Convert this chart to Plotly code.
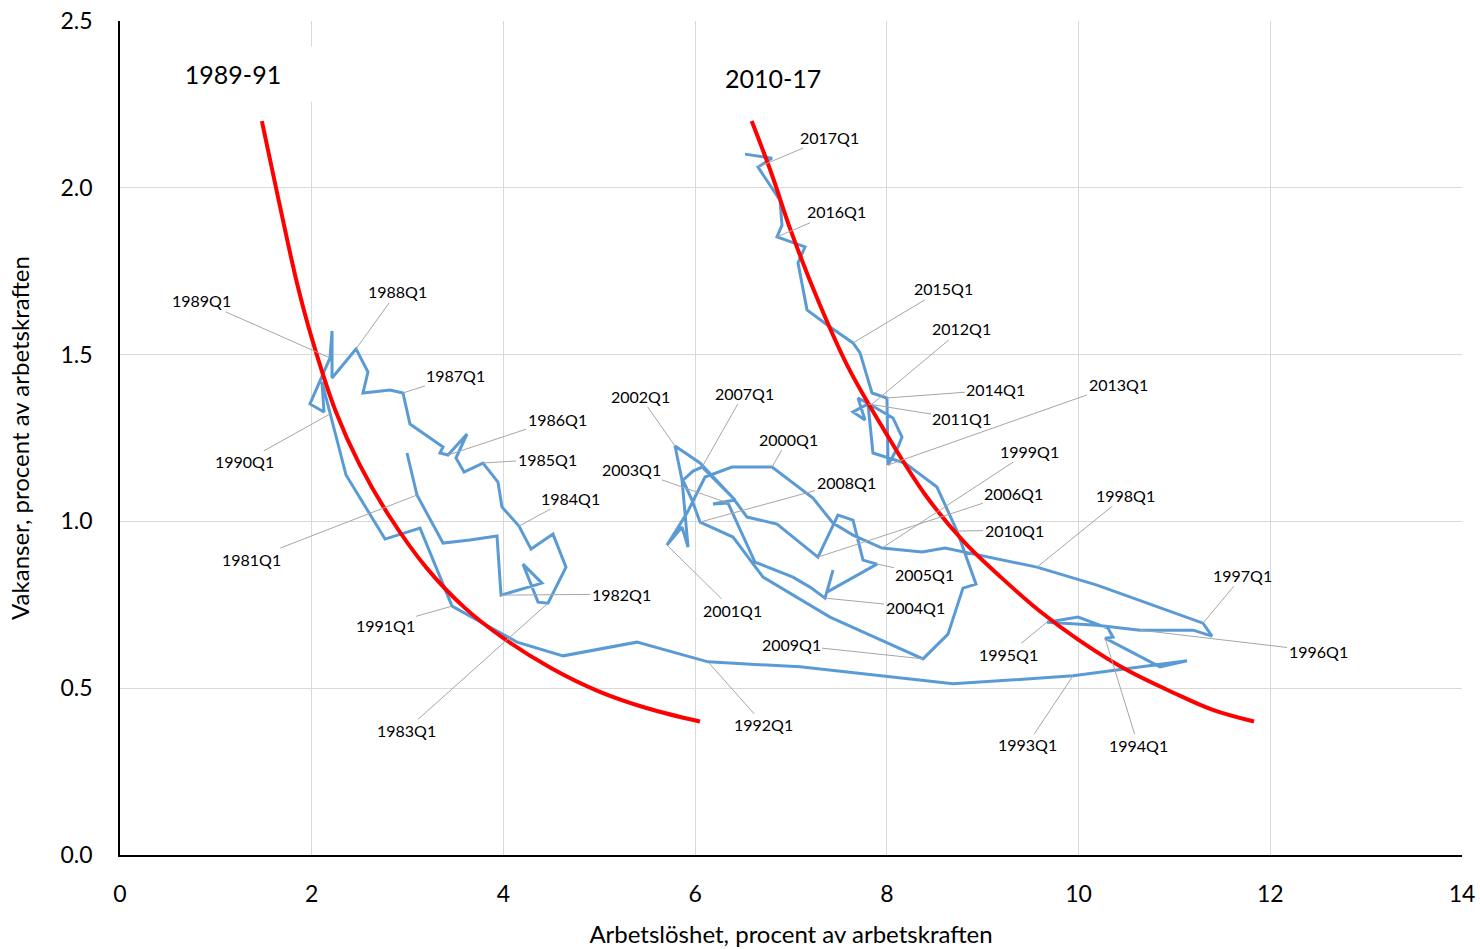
import plotly.graph_objects as go

# ---- Data ----
quarter = ["", "1981Q1", "", "", "", "1982Q1", "", "", "", "1983Q1", "", "", "", "1984Q1", "", "",
           "1985Q1", "", "", "", "1986Q1", "", "", "", "1987Q1", "", "", "", "1988Q1", "", "",
           "1989Q1", "", "", "", "1990Q1", "", "", "", "1991Q1", "", "", "", "1992Q1", "", "",
           "1993Q1", "", "", "1994Q1", "", "", "", "1995Q1", "", "1996Q1", "", "", "1997Q1", "", "",
           "1998Q1", "", "", "1999Q1", "", "", "", "2000Q1", "", "", "", "2001Q1", "", "", "",
           "2002Q1", "", "", "", "2003Q1", "", "", "", "2004Q1", "", "", "2005Q1", "", "", "",
           "2006Q1", "", "", "", "2007Q1", "", "", "", "2008Q1", "", "", "", "2009Q1", "", "", "",
           "2010Q1", "", "", "", "2011Q1", "", "", "", "2012Q1", "", "", "", "2013Q1", "2014Q1", "", "",
           "2015Q1", "", "", "", "", "2016Q1", "", "", "2017Q1", "", ""]

unemployment = [2.994, 3.098, 3.370, 3.651, 3.933, 3.975, 4.402, 4.204, 4.361, 4.465, 4.653, 4.517, 4.288,
                4.162, 3.985, 3.943, 3.787, 3.589, 3.505, 3.620, 3.422, 3.338, 3.370, 3.025, 2.952, 2.817,
                2.535, 2.587, 2.462, 2.212, 2.212, 2.191, 1.982, 2.128, 2.107, 2.191, 2.358, 2.765, 3.130,
                3.464, 4.142, 4.622, 5.393, 6.134, 7.094, 8.690, 9.942, 11.131, 10.849, 10.276, 10.359,
                10.307, 9.994, 9.671, 10.192, 10.641, 11.194, 11.392, 11.298, 10.745, 10.192, 9.566, 8.607,
                8.367, 7.949, 7.647, 7.438, 7.229, 6.802, 6.384, 6.103, 5.915, 5.706, 5.863, 5.926, 5.863,
                5.790, 6.051, 6.416, 6.186, 6.343, 6.624, 7.021, 7.198, 7.355, 7.438, 7.375, 7.897, 7.751,
                7.647, 7.490, 7.281, 6.854, 6.541, 6.395, 6.072, 5.978, 5.873, 5.967, 6.051, 6.395, 6.708,
                7.407, 8.377, 8.638, 8.794, 8.930, 8.732, 8.523, 8.189, 7.855, 7.803, 7.647, 7.772, 7.699,
                7.834, 8.064, 8.158, 8.116, 8.012, 8.001, 7.845, 7.720, 7.647, 7.407, 7.167, 7.073, 7.146,
                6.854, 6.906, 6.885, 6.656, 6.802, 6.520]

vacancies = [1.205, 1.079, 0.935, 0.944, 0.956, 0.779, 0.815, 0.872, 0.758, 0.755, 0.863, 0.962, 0.917,
             0.986, 1.043, 1.118, 1.175, 1.148, 1.190, 1.262, 1.199, 1.205, 1.223, 1.292, 1.385, 1.394,
             1.385, 1.448, 1.517, 1.430, 1.571, 1.490, 1.352, 1.328, 1.418, 1.322, 1.139, 0.947, 0.980,
             0.746, 0.638, 0.597, 0.638, 0.579, 0.564, 0.513, 0.537, 0.582, 0.564, 0.650, 0.653,
             0.680, 0.713, 0.698, 0.689, 0.674, 0.674, 0.656, 0.695, 0.752, 0.809, 0.863, 0.920,
             0.908, 0.920, 0.959, 0.995, 1.070, 1.163, 1.163, 1.133, 1.025, 0.929, 0.983, 0.923, 1.124,
             1.226, 1.175, 1.064, 1.052, 1.055, 0.878, 0.833, 0.803, 0.770, 0.854, 0.788, 0.872, 0.884,
             1.004, 1.019, 0.893, 0.992, 1.013, 1.070, 1.163, 1.151, 1.124, 1.064, 0.998, 0.953, 0.833,
             0.713, 0.588, 0.662, 0.800, 0.812, 0.971, 1.103, 1.175, 1.205, 1.352, 1.328, 1.304, 1.370,
             1.349, 1.310, 1.253, 1.223, 1.169, 1.370, 1.385, 1.505, 1.535, 1.583, 1.634, 1.775, 1.823,
             1.853, 1.888, 1.963, 2.062, 2.089, 2.101]

# Red curves
curve1_u = [1.48, 1.65, 1.85, 2.0, 2.25, 2.5, 2.8, 3.2, 3.6, 4.0, 4.5, 5.0, 5.5, 6.05]
curve1_v = [2.20, 1.97, 1.71, 1.55, 1.33, 1.17, 1.02, 0.86, 0.74, 0.65, 0.56, 0.49, 0.44, 0.40]
curve2_u = [6.59, 6.8, 7.0, 7.3, 7.6, 8.0, 8.4, 8.8, 9.2, 9.6, 10.0, 10.5, 11.0, 11.4, 11.83]
curve2_v = [2.20, 2.04, 1.87, 1.65, 1.46, 1.26, 1.08, 0.94, 0.83, 0.73, 0.645, 0.555, 0.485, 0.435, 0.40]

period_labels = ["1989-91", "2010-17"]
x_title = "Arbetslöshet, procent av arbetskraften"
y_title = "Vakanser, procent av arbetskraften"

# ---- Label offsets (pixels from the point to the label centre) ----
label_offsets = {
    "1981Q1": (-165, 64), "1982Q1": (120, -1), "1983Q1": (-142, 127), "1984Q1": (52, -28),
    "1985Q1": (64, -4), "1986Q1": (109, -36), "1987Q1": (53, -17), "1988Q1": (41, -57),
    "1989Q1": (-129, -57), "1990Q1": (-86, 48), "1991Q1": (-67, 19), "1992Q1": (56, 63),
    "1993Q1": (-46, 69), "1994Q1": (33, 107), "1995Q1": (-39, 32), "1996Q1": (178, 21),
    "1997Q1": (40, -48), "1998Q1": (89, -72), "1999Q1": (148, -97), "2000Q1": (16, -28),
    "2001Q1": (66, 65), "2002Q1": (-35, -50), "2003Q1": (-97, -34), "2004Q1": (90, 9),
    "2005Q1": (48, 10), "2006Q1": (196, -64), "2007Q1": (42, -74), "2008Q1": (146, -40),
    "2009Q1": (-132, -14), "2010Q1": (57, -1), "2011Q1": (94, 15), "2012Q1": (91, -76),
    "2013Q1": (230, -81), "2014Q1": (109, -8), "2015Q1": (90, -54), "2016Q1": (59, -25),
    "2017Q1": (71, -30),
}

FONT = "Lato, 'Open Sans', sans-serif"

fig = go.Figure()
fig.add_trace(go.Scatter(x=unemployment, y=vacancies, mode="lines",
                         line=dict(color="#5B9BD5", width=3), hoverinfo="skip"))
fig.add_trace(go.Scatter(x=curve1_u, y=curve1_v, mode="lines",
                         line=dict(color="#FF0000", width=4, shape="spline"), hoverinfo="skip"))
fig.add_trace(go.Scatter(x=curve2_u, y=curve2_v, mode="lines",
                         line=dict(color="#FF0000", width=4, shape="spline"), hoverinfo="skip"))

annotations = []
for i, q in enumerate(quarter):
    if q and q in label_offsets:
        ax, ay = label_offsets[q]
        annotations.append(dict(x=unemployment[i], y=vacancies[i], xref="x", yref="y",
                                text=q, showarrow=True, ax=ax, ay=ay,
                                arrowhead=0, arrowwidth=1, arrowcolor="#A6A6A6",
                                standoff=0, startstandoff=0,
                                font=dict(family=FONT, size=16, color="black")))

annotations.append(dict(x=1.18, y=2.34, xref="x", yref="y", text=period_labels[0],
                        showarrow=False, font=dict(family=FONT, size=25, color="black"),
                        bgcolor="white", width=170, height=52))
annotations.append(dict(x=6.81, y=2.33, xref="x", yref="y", text=period_labels[1],
                        showarrow=False, font=dict(family=FONT, size=25, color="black")))

fig.update_layout(
    width=1480, height=949,
    margin=dict(l=120, r=18, t=21, b=94),
    plot_bgcolor="white", paper_bgcolor="white",
    showlegend=False,
    font=dict(family=FONT, color="black"),
    annotations=annotations,
)
fig.update_xaxes(range=[0, 14], dtick=2, tick0=0, showgrid=True, gridcolor="#D9D9D9", gridwidth=1,
                 zeroline=False, showline=True, linecolor="black", linewidth=1.5,
                 ticks="", tickfont=dict(family=FONT, size=23, color="black"),
                 ticklabelstandoff=18, automargin=False, ticklabeloverflow="allow",
                 title=dict(text=x_title, font=dict(family=FONT, size=24, color="black"), standoff=20))
fig.update_yaxes(range=[0, 2.5], dtick=0.5, tick0=0, tickformat=".1f", showgrid=True,
                 gridcolor="#D9D9D9", gridwidth=1,
                 zeroline=False, showline=True, linecolor="black", linewidth=1.5,
                 ticks="", tickfont=dict(family=FONT, size=23, color="black"),
                 ticklabelstandoff=21, automargin=False, ticklabeloverflow="allow",
                 title=dict(text=y_title, font=dict(family=FONT, size=24, color="black"), standoff=24))

fig.write_html("out.html", config={"displayModeBar": False},
               post_script="document.body.style.margin='0';document.body.style.overflow='hidden';")
